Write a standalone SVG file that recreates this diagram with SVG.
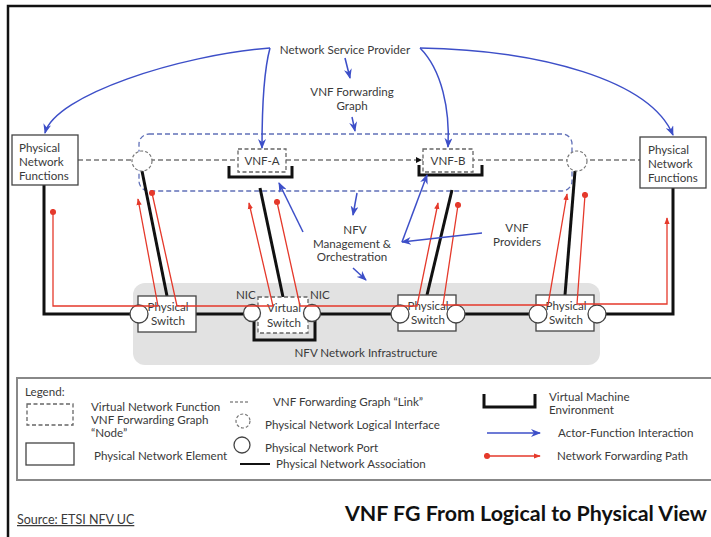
<svg xmlns="http://www.w3.org/2000/svg" width="711" height="537" viewBox="0 0 711 537">
<style>
text{font-family:Lato,"Liberation Sans",sans-serif;font-size:11.6px;fill:#3a3a3a}
.c{text-anchor:middle}
.blue{stroke:#3d4fc8;stroke-width:1.5;fill:none;marker-end:url(#ab)}
.red{stroke:#e5392b;stroke-width:1.3;fill:none;marker-start:url(#rd);marker-end:url(#ra)}
.blk{stroke:#111;stroke-width:3;fill:none}
.vm{stroke:#111;stroke-width:3;fill:none}
.vnf{fill:#fff;stroke:#666;stroke-width:1.3;stroke-dasharray:4 2.5}
.pne{fill:#fff;stroke:#444;stroke-width:1.3}
.port{fill:#fff;stroke:#444;stroke-width:1.3}
.lif{fill:#fff;stroke:#777;stroke-width:1.2;stroke-dasharray:3 2}
</style>
<defs>
<marker id="ab" viewBox="0 0 10 8" refX="9" refY="4" markerWidth="10" markerHeight="8" markerUnits="userSpaceOnUse" orient="auto"><path d="M0,0 L10,4 L0,8 L3,4 z" fill="#3d4fc8"/></marker>
<marker id="ra" viewBox="0 0 8 6" refX="7" refY="3" markerWidth="7" markerHeight="6" markerUnits="userSpaceOnUse" orient="auto"><path d="M0,0 L8,3 L0,6 z" fill="#e5392b"/></marker>
<marker id="rd" viewBox="0 0 8 8" refX="4" refY="4" markerWidth="7" markerHeight="7" markerUnits="userSpaceOnUse"><circle cx="4" cy="4" r="3.5" fill="#e5392b"/></marker>
</defs>
<rect width="711" height="537" fill="#fff"/>
<path d="M8,545 V6 H715" fill="none" stroke="#111" stroke-width="2.5"/>

<g id="infrastructure">
<rect x="133" y="283" width="467" height="82" rx="12" fill="#e2e2e2"/>
<text class="c" x="366" y="357">NFV Network Infrastructure</text>
</g>

<g id="fg-links">
<rect x="139" y="134" width="433" height="57" rx="10" fill="none" stroke="#6070b8" stroke-width="1.3" stroke-dasharray="5 3"/>
<line x1="78" y1="160" x2="640" y2="160" stroke="#777" stroke-width="1.3" stroke-dasharray="5 3"/>
<path d="M416,157 L422,160 L416,163 z" fill="#111"/>
</g>

<g id="connectors">
<path class="blk" d="M44,185 V314 H673 V188"/>
<path class="blk" d="M142,171 L167,296"/>
<path class="blk" d="M260,188 L283,297"/>
<path class="blk" d="M452,190 L427,295"/>
<path class="blk" d="M575,171 L565,295"/>
</g>

<g id="pnf-left"><rect class="pne" x="12" y="135" width="66" height="50"/>
<text x="19" y="152">Physical</text><text x="19" y="166">Network</text><text x="19" y="180">Functions</text></g>
<g id="pnf-right"><rect class="pne" x="640" y="137" width="66" height="51"/>
<text x="648" y="154">Physical</text><text x="648" y="168">Network</text><text x="648" y="182">Functions</text></g>

<g id="lif-left"><circle class="lif" cx="142" cy="161" r="10"/></g>
<g id="lif-right"><circle class="lif" cx="577" cy="161" r="10"/></g>

<g id="vnf-a"><rect class="vnf" x="238" y="149" width="48" height="23"/><text class="c" x="262" y="165">VNF-A</text>
<path class="vm" d="M229,166 V177 H292 V166"/></g>
<g id="vnf-b"><rect class="vnf" x="423" y="149" width="50" height="23"/><text class="c" x="448" y="165">VNF-B</text>
<path class="vm" d="M419,165 V175 H482 V165"/></g>

<g id="switch-1"><rect class="pne" x="138" y="296" width="58" height="36"/>
<text class="c" x="168" y="311">Physical</text><text class="c" x="168" y="325">Switch</text>
<circle class="port" cx="139" cy="314" r="9"/></g>
<g id="virtual-switch"><path class="vm" d="M254,316 V340 H315 V316"/>
<rect class="vnf" x="258" y="297" width="50" height="36"/>
<text class="c" x="284" y="312">Virtual</text><text class="c" x="284" y="327">Switch</text>
<circle class="port" cx="252" cy="313" r="8.5"/><circle class="port" cx="312" cy="313" r="8.5"/>
<text x="236" y="299">NIC</text><text x="310" y="299">NIC</text></g>
<g id="switch-3"><rect class="pne" x="398" y="295" width="58" height="36"/>
<text class="c" x="428" y="310">Physical</text><text class="c" x="428" y="324">Switch</text>
<circle class="port" cx="400" cy="314" r="9"/><circle class="port" cx="456" cy="314" r="9"/></g>
<g id="switch-4"><rect class="pne" x="536" y="295" width="58" height="36"/>
<text class="c" x="566" y="310">Physical</text><text class="c" x="566" y="324">Switch</text>
<circle class="port" cx="538" cy="314" r="9"/><circle class="port" cx="597" cy="314" r="9"/></g>

<g id="forwarding-path">
<path class="red" d="M53,212 V306 H158 L138,199"/>
<path class="red" d="M152,193 L177,306 H273 L249,203"/>
<path class="red" d="M277,202 L300,306 H417 L438,203"/>
<path class="red" d="M458,205 L443,305 H548 L567,194"/>
<path class="red" d="M585,195 L577,304 H667 V218"/>
</g>

<g id="actors">
<text class="c" x="345" y="54">Network Service Provider</text>
<text class="c" x="352" y="96">VNF Forwarding</text><text class="c" x="352" y="110">Graph</text>
<text class="c" x="355" y="234">NFV</text><text class="c" x="352" y="248">Management &amp;</text><text class="c" x="352" y="261">Orchestration</text>
<text class="c" x="517" y="232">VNF</text><text class="c" x="517" y="246">Providers</text>
</g>

<g id="interactions">
<path class="blue" d="M270,48 C180,55 55,95 45,133"/>
<path class="blue" d="M270,48 C264,70 262,110 262,148"/>
<path class="blue" d="M420,48 C442,70 450,110 448,147"/>
<path class="blue" d="M420,48 C540,50 650,80 673,135"/>
<path class="blue" d="M345,58 L350,78"/>
<path class="blue" d="M352,117 L355,131"/>
<path class="blue" d="M357,193 L353,215"/>
<path class="blue" d="M353,268 L366,280"/>
<path class="blue" d="M303,232 L279,183"/>
<path class="blue" d="M402,242 L427,175"/>
<path class="blue" d="M482,233 L402,242"/>
</g>

<g id="legend">
<rect x="17" y="378" width="700" height="102" fill="#fff" stroke="#888" stroke-width="2"/>
<text x="25" y="396">Legend:</text>
<rect class="vnf" x="27" y="404" width="46" height="21"/>
<text x="91" y="411">Virtual Network Function</text><text x="91" y="424">VNF Forwarding Graph</text><text x="91" y="437">“Node”</text>
<rect class="pne" x="26" y="443" width="48" height="22"/>
<text x="94" y="460">Physical Network Element</text>
<line x1="230" y1="402" x2="248" y2="402" stroke="#555" stroke-width="1.2" stroke-dasharray="3 2"/>
<text x="273" y="406">VNF Forwarding Graph “Link”</text>
<circle class="lif" cx="243" cy="421" r="7"/>
<text x="265" y="429">Physical Network Logical Interface</text>
<circle class="port" cx="242" cy="445" r="8"/>
<text x="265" y="452">Physical Network Port</text>
<line x1="240" y1="464" x2="270" y2="464" stroke="#111" stroke-width="2"/>
<text x="276" y="468">Physical Network Association</text>
<path class="vm" d="M484,394 V407 H535 V394"/>
<text x="549" y="401">Virtual Machine</text><text x="549" y="414">Environment</text>
<path class="blue" d="M487,433 L540,433"/>
<text x="558" y="437">Actor-Function Interaction</text>
<path class="red" d="M487,456 L540,456"/>
<text x="557" y="460">Network Forwarding Path</text>
</g>

<text x="17" y="524" text-decoration="underline" style="font-size:12.5px">Source: ETSI NFV UC</text>
<text x="345" y="521" textLength="362" lengthAdjust="spacingAndGlyphs" style="font-size:21px;font-weight:bold;fill:#111">VNF FG From Logical to Physical View</text>
</svg>
